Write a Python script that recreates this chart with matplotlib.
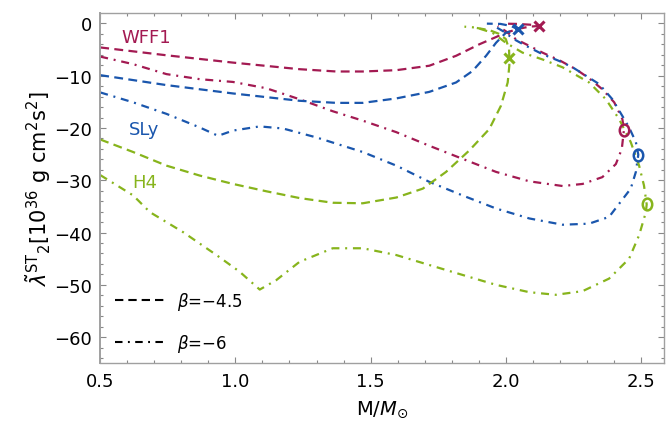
import numpy as np
import matplotlib
matplotlib.use("Agg")
import matplotlib.pyplot as plt
from matplotlib.path import Path
from matplotlib.lines import Line2D

plt.rcParams['font.family'] = ['DejaVu Sans']
plt.rcParams['mathtext.fontset'] = 'dejavusans'

# colours per EOS
c_wff1 = '#a31a52'
c_sly = '#1a56ad'
c_h4 = '#87b41c'

# ----- data -----
# WFF1, beta = -4.5 (dashed)
wff1_d_m = [0.5, 0.745, 0.991, 1.237, 1.373, 1.471, 1.595, 1.717, 1.816, 1.902,
            1.96, 2.0, 2.05, 2.087, 2.121, 2.09, 2.04, 1.99]
wff1_d_l = [-4.6, -6.1, -7.5, -8.76, -9.2, -9.2, -8.95, -8.1, -6.2, -4.0,
            -2.7, -1.78, -1.0, -0.63, -0.5, -0.25, -0.1, -0.05]
# WFF1, beta = -6 (dash-dot)
wff1_dd_m = [0.5, 0.622, 0.745, 0.868, 0.991, 1.114, 1.237, 1.36, 1.471, 1.595,
             1.717, 1.84, 1.964, 2.087, 2.21, 2.284, 2.357, 2.407, 2.429, 2.437,
             2.431, 2.401, 2.357, 2.308, 2.259, 2.198, 2.136, 2.087, 2.038, 2.0, 1.97]
wff1_dd_l = [-6.35, -7.8, -9.7, -10.67, -11.2, -12.4, -14.5, -16.8, -18.6, -20.8,
             -23.4, -25.9, -28.4, -30.2, -31.1, -30.7, -29.4, -26.9, -24.0, -20.3,
             -18.3, -15.1, -12.6, -10.5, -8.76, -7.05, -5.6, -4.3, -3.05, -1.5, -0.5]

# SLy
sly_d_m = [0.5, 0.745, 0.991, 1.237, 1.373, 1.471, 1.595, 1.717, 1.816, 1.877,
           1.927, 1.964, 2.0, 2.044, 2.02, 1.98, 1.93]
sly_d_l = [-9.9, -11.8, -13.4, -14.8, -15.2, -15.2, -14.35, -13.1, -11.3, -9.1,
           -6.2, -3.7, -1.8, -1.14, -0.5, -0.1, -0.05]
sly_dd_m = [0.5, 0.622, 0.745, 0.868, 0.936, 0.991, 1.09, 1.176, 1.299, 1.373,
            1.471, 1.595, 1.717, 1.84, 1.964, 2.087, 2.21, 2.308, 2.382, 2.419,
            2.462, 2.481, 2.49, 2.481, 2.456, 2.431, 2.394, 2.345, 2.296, 2.247,
            2.198, 2.136, 2.075, 2.031, 1.99, 1.95]
sly_dd_l = [-13.2, -15.1, -17.3, -19.9, -21.5, -20.5, -19.7, -20.1, -21.8, -23.0,
            -24.6, -27.2, -30.3, -32.9, -35.4, -37.3, -38.5, -38.3, -37.0, -34.5,
            -31.6, -28.4, -25.1, -22.7, -19.9, -17.7, -14.5, -11.6, -10.0, -8.4,
            -7.2, -5.9, -4.3, -3.05, -1.5, -0.3]

# H4
h4_d_m = [0.5, 0.622, 0.745, 0.868, 0.991, 1.114, 1.237, 1.36, 1.471, 1.595,
          1.693, 1.779, 1.865, 1.939, 1.982, 2.007, 2.013, 2.013, 2.012, 2.0,
          1.975, 1.94, 1.89]
h4_d_l = [-22.2, -24.6, -27.2, -29.1, -30.7, -32.1, -33.4, -34.3, -34.4, -33.3,
          -31.6, -28.4, -24.3, -20.2, -15.75, -11.3, -8.1, -6.7, -4.9, -3.0,
          -2.0, -1.3, -0.85]
h4_dd_m = [0.5, 0.622, 0.684, 0.806, 0.93, 1.016, 1.09, 1.151, 1.237, 1.36,
           1.471, 1.595, 1.717, 1.84, 1.964, 2.087, 2.185, 2.284, 2.382, 2.456,
           2.493, 2.518, 2.521, 2.511, 2.493, 2.462, 2.419, 2.37, 2.308, 2.21,
           2.136, 2.062, 2.0, 1.951, 1.89, 1.847]
h4_dd_l = [-29.0, -32.9, -36.1, -39.9, -44.3, -47.5, -50.9, -49.1, -45.6, -43.0,
           -43.0, -44.3, -46.2, -48.1, -50.0, -51.4, -51.9, -51.2, -48.8, -45.0,
           -40.5, -36.1, -34.6, -31.0, -27.2, -22.7, -18.3, -14.5, -11.3, -8.4,
           -6.9, -5.6, -3.7, -1.8, -0.8, -0.63]

# maximum-mass markers: x for beta=-4.5, o for beta=-6
x_m = [2.121, 2.044, 2.013]
x_l = [-0.5, -1.14, -6.7]
o_m = [2.437, 2.49, 2.521]
o_l = [-20.3, -25.1, -34.6]
cols = [c_wff1, c_sly, c_h4]

eos_names = ['WFF1', 'SLy', 'H4']
eos_pos_m = [0.669, 0.661, 0.663]
eos_pos_l = [-2.7, -20.2, -30.3]

dash = (0, (4, 2.4))
dashdot = (0, (3.6, 2.6, 0.9, 2.6))

fig = plt.figure(figsize=(6.68, 4.35), dpi=100)
ax = fig.add_axes([0.15, 0.1625, 0.844, 0.8055])

lw = 1.6
ax.plot(wff1_d_m, wff1_d_l, color=c_wff1, lw=lw, ls=dash)
ax.plot(wff1_dd_m, wff1_dd_l, color=c_wff1, lw=lw, ls=dashdot)
ax.plot(sly_d_m, sly_d_l, color=c_sly, lw=lw, ls=dash)
ax.plot(sly_dd_m, sly_dd_l, color=c_sly, lw=lw, ls=dashdot)
ax.plot(h4_d_m, h4_d_l, color=c_h4, lw=lw, ls=dash)
ax.plot(h4_dd_m, h4_dd_l, color=c_h4, lw=lw, ls=dashdot)

# slightly tall "o" marker
circ = Path.unit_circle()
oval = Path(circ.vertices * np.array([0.8, 1.0]), circ.codes)
for i in range(3):
    ax.plot(x_m[i], x_l[i], marker='x', ms=7.5, mew=2.2, color=cols[i], ls='none')
    ax.plot(o_m[i], o_l[i], marker=oval, ms=8.5, mew=1.8, mfc='none',
            color=cols[i], ls='none')
    ax.text(eos_pos_m[i], eos_pos_l[i], eos_names[i], color=cols[i],
            fontsize=13, ha='center', va='center')

ax.set_xlim(0.5, 2.585)
ax.set_ylim(-65, 2)
ax.set_xticks([0.5, 1.0, 1.5, 2.0, 2.5])
ax.set_xticklabels(['0.5', '1.0', '1.5', '2.0', '2.5'])
ax.set_xticks(np.arange(0.5, 2.59, 0.1), minor=True)
ax.set_yticks([0, -10, -20, -30, -40, -50, -60])
ax.set_yticks(np.arange(-64, 1, 2), minor=True)

ax.tick_params(which='both', direction='in', top=True, right=True,
               labelsize=13, color='#888888', width=0.8, pad=6)
ax.tick_params(which='major', length=4.5)
ax.tick_params(which='minor', length=2.3)
for s in ax.spines.values():
    s.set_color('#a0a0a0')
    s.set_linewidth(1.0)
ax.spines['left'].set_linewidth(1.4)

ax.set_xlabel(r'M/$M_{\odot}$', fontsize=14, labelpad=6)
ax.set_ylabel(r'$\tilde{\lambda}^{\mathrm{ST}}{}_{2}[10^{36}\ \mathrm{g\ cm^{2}s^{2}}]$',
              fontsize=15, labelpad=1)

handles = [Line2D([], [], color='black', lw=1.5, ls=dash),
           Line2D([], [], color='black', lw=1.5, ls=dashdot)]
ax.legend(handles, [r'$\beta$=−4.5', r'$\beta$=−6'], loc='lower left',
          bbox_to_anchor=(0.0, -0.015), frameon=False, fontsize=12,
          handlelength=2.9, handletextpad=0.8, labelspacing=1.2)

fig.savefig('out.png', dpi=100)
